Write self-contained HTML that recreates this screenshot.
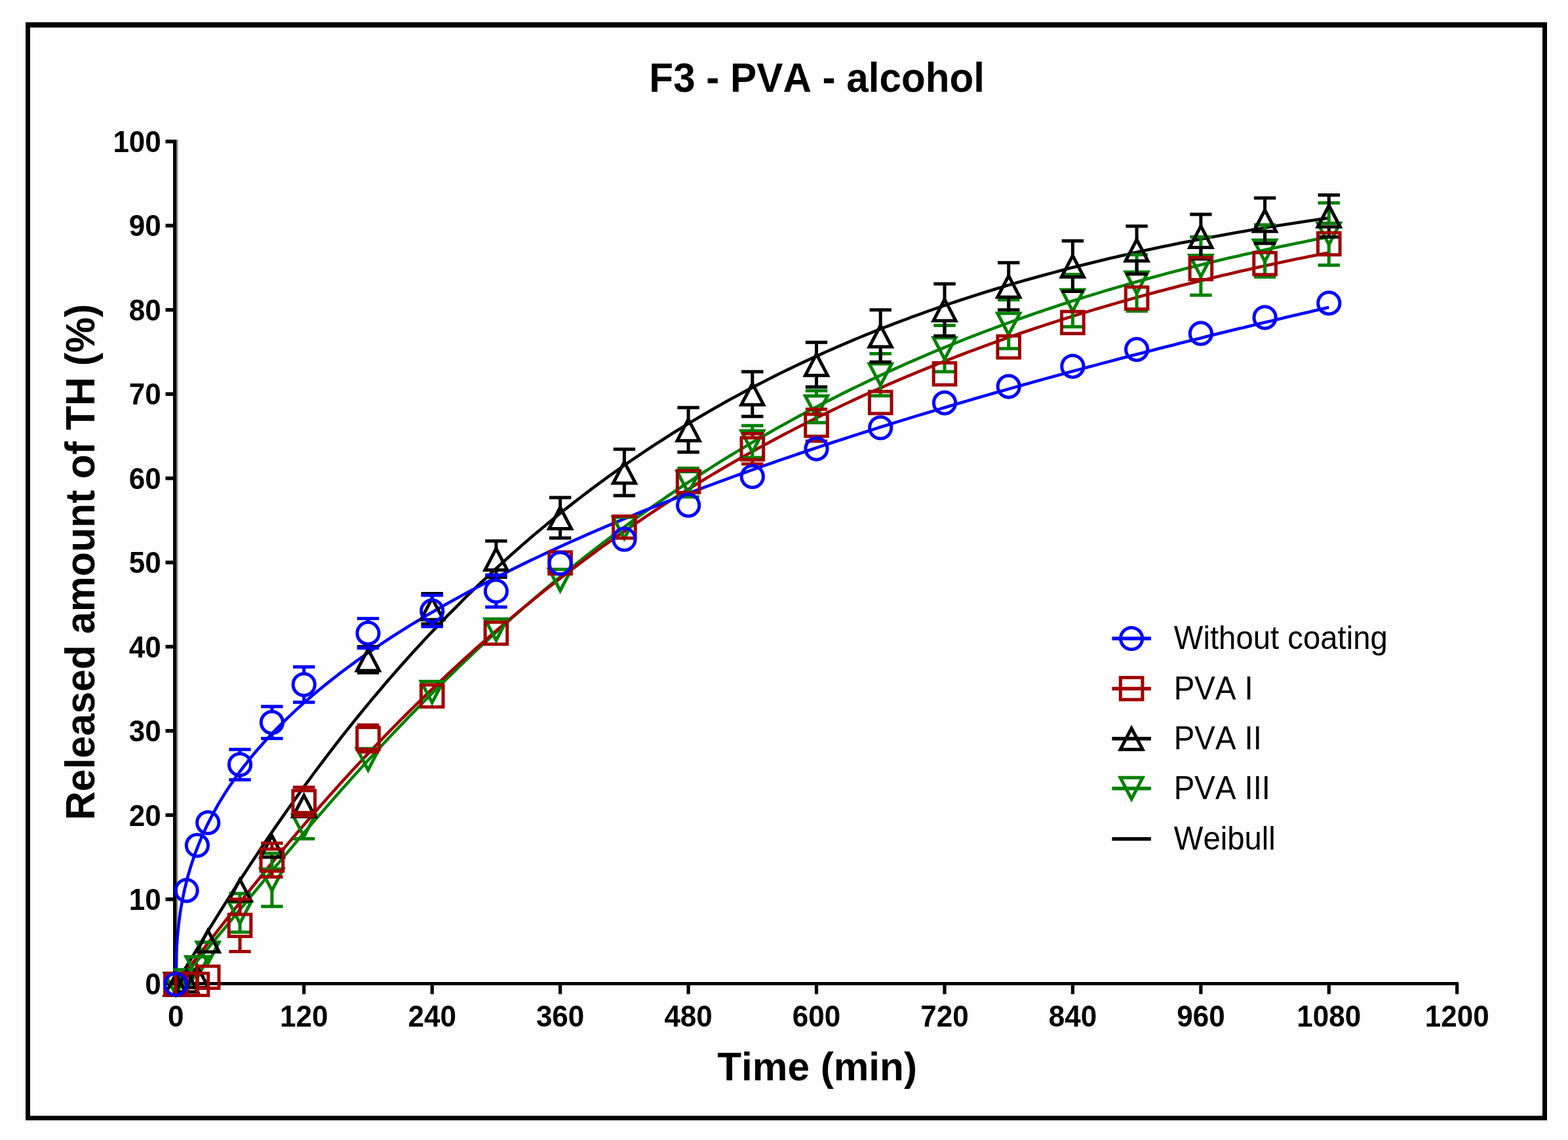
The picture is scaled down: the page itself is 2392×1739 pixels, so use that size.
<!DOCTYPE html>
<html lang="en">
<head>
<meta charset="utf-8">
<title>F3 - PVA - alcohol</title>
<style>html,body{margin:0;padding:0;background:#fefefe}svg{display:block}</style>
</head>
<body>
<svg width="2392" height="1739" viewBox="0 0 2392 1739" font-family="'Liberation Sans', Arial, Helvetica, sans-serif" style="font-kerning:none;font-variant-ligatures:none">
<rect width="2392" height="1739" fill="#fefefe"/>
<path d="M39,34H2360V1709H39Z M46,42V1702H2353V42Z" fill="#000" fill-rule="evenodd"/>
<g id="axes" fill="#000">
<rect x="264" y="213" width="5.6" height="1290"/>
<rect x="269.6" y="213" width="2" height="1285" fill="#9a9a9a"/>
<rect x="264" y="1498" width="1961" height="5"/>
<rect x="252.5" y="1497.5" width="12" height="5.6"/>
<rect x="252.5" y="1369.0" width="12" height="5.6"/>
<rect x="252.5" y="1240.6" width="12" height="5.6"/>
<rect x="252.5" y="1112.1" width="12" height="5.6"/>
<rect x="252.5" y="983.7" width="12" height="5.6"/>
<rect x="252.5" y="855.2" width="12" height="5.6"/>
<rect x="252.5" y="726.8" width="12" height="5.6"/>
<rect x="252.5" y="598.3" width="12" height="5.6"/>
<rect x="252.5" y="469.9" width="12" height="5.6"/>
<rect x="252.5" y="341.4" width="12" height="5.6"/>
<rect x="252.5" y="213.0" width="12" height="5.6"/>
<rect x="265.7" y="1500" width="5.2" height="16.5"/>
<rect x="461.1" y="1500" width="5.2" height="16.5"/>
<rect x="656.6" y="1500" width="5.2" height="16.5"/>
<rect x="852.0" y="1500" width="5.2" height="16.5"/>
<rect x="1047.5" y="1500" width="5.2" height="16.5"/>
<rect x="1242.9" y="1500" width="5.2" height="16.5"/>
<rect x="1438.4" y="1500" width="5.2" height="16.5"/>
<rect x="1633.8" y="1500" width="5.2" height="16.5"/>
<rect x="1829.3" y="1500" width="5.2" height="16.5"/>
<rect x="2024.7" y="1500" width="5.2" height="16.5"/>
<rect x="2220.1" y="1500" width="5.2" height="16.5"/>
</g>
<g id="fits">
<path id="fit-pva3" d="M268.3,1500.3 L269.1,1499.7 L269.9,1499.0 L270.7,1498.3 L271.6,1497.5 L272.4,1496.8 L273.2,1496.0 L274.0,1495.2 L274.8,1494.4 L275.6,1493.5 L276.4,1492.7 L277.3,1491.9 L278.1,1491.0 L278.9,1490.2 L279.7,1489.3 L280.5,1488.4 L281.3,1487.6 L282.1,1486.7 L283.0,1485.8 L283.8,1484.9 L284.6,1484.0 L285.4,1483.1 L286.2,1482.2 L287.0,1481.3 L287.8,1480.4 L288.7,1479.5 L289.5,1478.6 L290.3,1477.7 L291.1,1476.8 L291.9,1475.9 L292.7,1475.0 L293.5,1474.0 L294.4,1473.1 L295.2,1472.2 L296.0,1471.3 L296.8,1470.3 L297.6,1469.4 L298.4,1468.5 L299.2,1467.5 L300.1,1466.6 L300.9,1465.6 L301.7,1464.7 L302.5,1463.7 L303.3,1462.8 L304.1,1461.9 L304.9,1460.9 L305.8,1460.0 L306.6,1459.0 L307.4,1458.1 L308.2,1457.1 L309.0,1456.1 L309.8,1455.2 L310.6,1454.2 L311.5,1453.3 L312.3,1452.3 L313.1,1451.3 L313.9,1450.4 L314.7,1449.4 L315.5,1448.5 L316.3,1447.5 L317.2,1446.5 L325.3,1436.8 L333.4,1427.0 L341.6,1417.2 L349.7,1407.4 L357.9,1397.5 L366.0,1387.6 L374.2,1377.7 L382.3,1367.9 L390.5,1358.0 L398.6,1348.2 L406.7,1338.4 L414.9,1328.6 L423.0,1318.8 L431.2,1309.1 L439.3,1299.4 L447.5,1289.8 L455.6,1280.1 L463.7,1270.6 L471.9,1261.1 L480.0,1251.6 L488.2,1242.2 L496.3,1232.8 L504.5,1223.5 L512.6,1214.3 L520.7,1205.1 L528.9,1195.9 L537.0,1186.8 L545.2,1177.8 L553.3,1168.8 L561.5,1159.9 L569.6,1151.0 L577.8,1142.2 L585.9,1133.5 L594.0,1124.8 L602.2,1116.2 L610.3,1107.6 L618.5,1099.1 L626.6,1090.7 L634.8,1082.3 L642.9,1074.0 L651.0,1065.8 L659.2,1057.6 L667.3,1049.5 L675.5,1041.4 L683.6,1033.4 L691.8,1025.5 L699.9,1017.6 L708.0,1009.8 L716.2,1002.1 L724.3,994.4 L732.5,986.8 L740.6,979.2 L748.8,971.7 L756.9,964.3 L765.1,956.9 L773.2,949.6 L781.3,942.3 L789.5,935.2 L797.6,928.0 L805.8,921.0 L813.9,913.9 L822.1,907.0 L830.2,900.1 L838.3,893.3 L846.5,886.5 L854.6,879.8 L862.8,873.1 L870.9,866.6 L879.1,860.0 L887.2,853.5 L895.3,847.1 L903.5,840.8 L911.6,834.5 L919.8,828.2 L927.9,822.0 L936.1,815.9 L944.2,809.8 L952.4,803.8 L960.5,797.8 L968.6,791.9 L976.8,786.0 L984.9,780.2 L993.1,774.5 L1001.2,768.7 L1009.4,763.1 L1017.5,757.5 L1025.6,752.0 L1033.8,746.5 L1041.9,741.0 L1050.1,735.6 L1058.2,730.3 L1066.4,725.0 L1074.5,719.8 L1082.7,714.6 L1090.8,709.4 L1098.9,704.3 L1107.1,699.3 L1115.2,694.3 L1123.4,689.4 L1131.5,684.5 L1139.7,679.6 L1147.8,674.8 L1155.9,670.0 L1164.1,665.3 L1172.2,660.7 L1180.4,656.0 L1188.5,651.5 L1196.7,646.9 L1204.8,642.4 L1212.9,638.0 L1221.1,633.6 L1229.2,629.2 L1237.4,624.9 L1245.5,620.7 L1253.7,616.4 L1261.8,612.2 L1270.0,608.1 L1278.1,604.0 L1286.2,599.9 L1294.4,595.9 L1302.5,591.9 L1310.7,588.0 L1318.8,584.1 L1327.0,580.2 L1335.1,576.4 L1343.2,572.6 L1351.4,568.8 L1359.5,565.1 L1367.7,561.4 L1375.8,557.8 L1384.0,554.2 L1392.1,550.6 L1400.2,547.1 L1408.4,543.6 L1416.5,540.1 L1424.7,536.7 L1432.8,533.3 L1441.0,530.0 L1449.1,526.7 L1457.3,523.4 L1465.4,520.1 L1473.5,516.9 L1481.7,513.7 L1489.8,510.6 L1498.0,507.4 L1506.1,504.3 L1514.3,501.3 L1522.4,498.3 L1530.5,495.3 L1538.7,492.3 L1546.8,489.4 L1555.0,486.5 L1563.1,483.6 L1571.3,480.8 L1579.4,477.9 L1587.5,475.2 L1595.7,472.4 L1603.8,469.7 L1612.0,467.0 L1620.1,464.3 L1628.3,461.7 L1636.4,459.0 L1644.6,456.5 L1652.7,453.9 L1660.8,451.4 L1669.0,448.9 L1677.1,446.4 L1685.3,443.9 L1693.4,441.5 L1701.6,439.1 L1709.7,436.7 L1717.8,434.4 L1726.0,432.0 L1734.1,429.7 L1742.3,427.5 L1750.4,425.2 L1758.6,423.0 L1766.7,420.8 L1774.8,418.6 L1783.0,416.4 L1791.1,414.3 L1799.3,412.2 L1807.4,410.1 L1815.6,408.0 L1823.7,406.0 L1831.9,403.9 L1840.0,401.9 L1848.1,400.0 L1856.3,398.0 L1864.4,396.1 L1872.6,394.1 L1880.7,392.2 L1888.9,390.4 L1897.0,388.5 L1905.1,386.7 L1913.3,384.9 L1921.4,383.1 L1929.6,381.3 L1937.7,379.5 L1945.9,377.8 L1954.0,376.1 L1962.1,374.4 L1970.3,372.7 L1978.4,371.0 L1986.6,369.4 L1994.7,367.7 L2002.9,366.1 L2011.0,364.5 L2019.2,362.9 L2027.3,361.4" stroke="#008000" stroke-width="4.6" fill="none" stroke-linejoin="round"/>
<path id="fit-pva2" d="M268.3,1500.3 L269.1,1499.1 L269.9,1497.8 L270.7,1496.5 L271.6,1495.2 L272.4,1493.9 L273.2,1492.6 L274.0,1491.3 L274.8,1490.0 L275.6,1488.6 L276.4,1487.3 L277.3,1486.0 L278.1,1484.6 L278.9,1483.3 L279.7,1482.0 L280.5,1480.6 L281.3,1479.3 L282.1,1478.0 L283.0,1476.6 L283.8,1475.3 L284.6,1474.0 L285.4,1472.6 L286.2,1471.3 L287.0,1469.9 L287.8,1468.6 L288.7,1467.2 L289.5,1465.9 L290.3,1464.6 L291.1,1463.2 L291.9,1461.9 L292.7,1460.5 L293.5,1459.2 L294.4,1457.9 L295.2,1456.5 L296.0,1455.2 L296.8,1453.8 L297.6,1452.5 L298.4,1451.2 L299.2,1449.8 L300.1,1448.5 L300.9,1447.1 L301.7,1445.8 L302.5,1444.5 L303.3,1443.1 L304.1,1441.8 L304.9,1440.5 L305.8,1439.1 L306.6,1437.8 L307.4,1436.5 L308.2,1435.1 L309.0,1433.8 L309.8,1432.5 L310.6,1431.1 L311.5,1429.8 L312.3,1428.5 L313.1,1427.2 L313.9,1425.8 L314.7,1424.5 L315.5,1423.2 L316.3,1421.9 L317.2,1420.5 L325.3,1407.3 L333.4,1394.3 L341.6,1381.3 L349.7,1368.4 L357.9,1355.6 L366.0,1343.0 L374.2,1330.4 L382.3,1318.0 L390.5,1305.7 L398.6,1293.5 L406.7,1281.4 L414.9,1269.4 L423.0,1257.6 L431.2,1245.9 L439.3,1234.3 L447.5,1222.8 L455.6,1211.4 L463.7,1200.2 L471.9,1189.0 L480.0,1178.0 L488.2,1167.1 L496.3,1156.3 L504.5,1145.7 L512.6,1135.1 L520.7,1124.7 L528.9,1114.3 L537.0,1104.1 L545.2,1094.0 L553.3,1084.0 L561.5,1074.1 L569.6,1064.3 L577.8,1054.7 L585.9,1045.1 L594.0,1035.6 L602.2,1026.3 L610.3,1017.0 L618.5,1007.9 L626.6,998.8 L634.8,989.9 L642.9,981.0 L651.0,972.3 L659.2,963.6 L667.3,955.1 L675.5,946.6 L683.6,938.2 L691.8,930.0 L699.9,921.8 L708.0,913.7 L716.2,905.7 L724.3,897.8 L732.5,890.0 L740.6,882.3 L748.8,874.7 L756.9,867.1 L765.1,859.6 L773.2,852.3 L781.3,845.0 L789.5,837.8 L797.6,830.6 L805.8,823.6 L813.9,816.6 L822.1,809.7 L830.2,802.9 L838.3,796.2 L846.5,789.6 L854.6,783.0 L862.8,776.5 L870.9,770.1 L879.1,763.7 L887.2,757.5 L895.3,751.3 L903.5,745.1 L911.6,739.1 L919.8,733.1 L927.9,727.2 L936.1,721.3 L944.2,715.5 L952.4,709.8 L960.5,704.2 L968.6,698.6 L976.8,693.1 L984.9,687.6 L993.1,682.3 L1001.2,676.9 L1009.4,671.7 L1017.5,666.5 L1025.6,661.3 L1033.8,656.3 L1041.9,651.2 L1050.1,646.3 L1058.2,641.4 L1066.4,636.5 L1074.5,631.7 L1082.7,627.0 L1090.8,622.3 L1098.9,617.7 L1107.1,613.1 L1115.2,608.6 L1123.4,604.2 L1131.5,599.8 L1139.7,595.4 L1147.8,591.1 L1155.9,586.9 L1164.1,582.7 L1172.2,578.5 L1180.4,574.4 L1188.5,570.3 L1196.7,566.3 L1204.8,562.4 L1212.9,558.5 L1221.1,554.6 L1229.2,550.8 L1237.4,547.0 L1245.5,543.3 L1253.7,539.6 L1261.8,536.0 L1270.0,532.4 L1278.1,528.8 L1286.2,525.3 L1294.4,521.8 L1302.5,518.4 L1310.7,515.0 L1318.8,511.6 L1327.0,508.3 L1335.1,505.1 L1343.2,501.8 L1351.4,498.6 L1359.5,495.5 L1367.7,492.4 L1375.8,489.3 L1384.0,486.3 L1392.1,483.2 L1400.2,480.3 L1408.4,477.3 L1416.5,474.4 L1424.7,471.6 L1432.8,468.7 L1441.0,466.0 L1449.1,463.2 L1457.3,460.5 L1465.4,457.8 L1473.5,455.1 L1481.7,452.5 L1489.8,449.9 L1498.0,447.3 L1506.1,444.8 L1514.3,442.2 L1522.4,439.8 L1530.5,437.3 L1538.7,434.9 L1546.8,432.5 L1555.0,430.1 L1563.1,427.8 L1571.3,425.5 L1579.4,423.2 L1587.5,421.0 L1595.7,418.8 L1603.8,416.6 L1612.0,414.4 L1620.1,412.3 L1628.3,410.1 L1636.4,408.0 L1644.6,406.0 L1652.7,403.9 L1660.8,401.9 L1669.0,399.9 L1677.1,398.0 L1685.3,396.0 L1693.4,394.1 L1701.6,392.2 L1709.7,390.3 L1717.8,388.5 L1726.0,386.6 L1734.1,384.8 L1742.3,383.0 L1750.4,381.3 L1758.6,379.5 L1766.7,377.8 L1774.8,376.1 L1783.0,374.4 L1791.1,372.8 L1799.3,371.1 L1807.4,369.5 L1815.6,367.9 L1823.7,366.3 L1831.9,364.8 L1840.0,363.2 L1848.1,361.7 L1856.3,360.2 L1864.4,358.7 L1872.6,357.2 L1880.7,355.8 L1888.9,354.3 L1897.0,352.9 L1905.1,351.5 L1913.3,350.1 L1921.4,348.8 L1929.6,347.4 L1937.7,346.1 L1945.9,344.8 L1954.0,343.5 L1962.1,342.2 L1970.3,340.9 L1978.4,339.7 L1986.6,338.4 L1994.7,337.2 L2002.9,336.0 L2011.0,334.8 L2019.2,333.6 L2027.3,332.5" stroke="#000000" stroke-width="4.6" fill="none" stroke-linejoin="round"/>
<path id="fit-pva1" d="M268.3,1500.3 L269.1,1499.4 L269.9,1498.5 L270.7,1497.5 L271.6,1496.6 L272.4,1495.6 L273.2,1494.6 L274.0,1493.6 L274.8,1492.6 L275.6,1491.6 L276.4,1490.6 L277.3,1489.6 L278.1,1488.6 L278.9,1487.6 L279.7,1486.6 L280.5,1485.6 L281.3,1484.6 L282.1,1483.5 L283.0,1482.5 L283.8,1481.5 L284.6,1480.5 L285.4,1479.4 L286.2,1478.4 L287.0,1477.4 L287.8,1476.3 L288.7,1475.3 L289.5,1474.3 L290.3,1473.2 L291.1,1472.2 L291.9,1471.1 L292.7,1470.1 L293.5,1469.1 L294.4,1468.0 L295.2,1467.0 L296.0,1465.9 L296.8,1464.9 L297.6,1463.9 L298.4,1462.8 L299.2,1461.8 L300.1,1460.7 L300.9,1459.7 L301.7,1458.6 L302.5,1457.6 L303.3,1456.6 L304.1,1455.5 L304.9,1454.5 L305.8,1453.4 L306.6,1452.4 L307.4,1451.3 L308.2,1450.3 L309.0,1449.2 L309.8,1448.2 L310.6,1447.1 L311.5,1446.1 L312.3,1445.1 L313.1,1444.0 L313.9,1443.0 L314.7,1441.9 L315.5,1440.9 L316.3,1439.8 L317.2,1438.8 L325.3,1428.3 L333.4,1417.9 L341.6,1407.5 L349.7,1397.2 L357.9,1386.9 L366.0,1376.6 L374.2,1366.4 L382.3,1356.2 L390.5,1346.2 L398.6,1336.1 L406.7,1326.2 L414.9,1316.2 L423.0,1306.4 L431.2,1296.6 L439.3,1286.9 L447.5,1277.3 L455.6,1267.7 L463.7,1258.2 L471.9,1248.8 L480.0,1239.4 L488.2,1230.1 L496.3,1220.9 L504.5,1211.7 L512.6,1202.7 L520.7,1193.6 L528.9,1184.7 L537.0,1175.8 L545.2,1167.0 L553.3,1158.3 L561.5,1149.6 L569.6,1141.1 L577.8,1132.5 L585.9,1124.1 L594.0,1115.7 L602.2,1107.4 L610.3,1099.2 L618.5,1091.0 L626.6,1082.9 L634.8,1074.8 L642.9,1066.9 L651.0,1059.0 L659.2,1051.1 L667.3,1043.4 L675.5,1035.7 L683.6,1028.0 L691.8,1020.4 L699.9,1012.9 L708.0,1005.5 L716.2,998.1 L724.3,990.8 L732.5,983.6 L740.6,976.4 L748.8,969.3 L756.9,962.2 L765.1,955.2 L773.2,948.3 L781.3,941.4 L789.5,934.6 L797.6,927.8 L805.8,921.1 L813.9,914.5 L822.1,907.9 L830.2,901.4 L838.3,895.0 L846.5,888.6 L854.6,882.2 L862.8,876.0 L870.9,869.7 L879.1,863.6 L887.2,857.4 L895.3,851.4 L903.5,845.4 L911.6,839.4 L919.8,833.5 L927.9,827.7 L936.1,821.9 L944.2,816.2 L952.4,810.5 L960.5,804.9 L968.6,799.3 L976.8,793.8 L984.9,788.3 L993.1,782.8 L1001.2,777.5 L1009.4,772.1 L1017.5,766.9 L1025.6,761.6 L1033.8,756.5 L1041.9,751.3 L1050.1,746.2 L1058.2,741.2 L1066.4,736.2 L1074.5,731.3 L1082.7,726.4 L1090.8,721.5 L1098.9,716.7 L1107.1,712.0 L1115.2,707.2 L1123.4,702.6 L1131.5,697.9 L1139.7,693.3 L1147.8,688.8 L1155.9,684.3 L1164.1,679.8 L1172.2,675.4 L1180.4,671.1 L1188.5,666.7 L1196.7,662.4 L1204.8,658.2 L1212.9,654.0 L1221.1,649.8 L1229.2,645.7 L1237.4,641.6 L1245.5,637.5 L1253.7,633.5 L1261.8,629.5 L1270.0,625.6 L1278.1,621.7 L1286.2,617.8 L1294.4,614.0 L1302.5,610.2 L1310.7,606.4 L1318.8,602.7 L1327.0,599.0 L1335.1,595.4 L1343.2,591.8 L1351.4,588.2 L1359.5,584.6 L1367.7,581.1 L1375.8,577.7 L1384.0,574.2 L1392.1,570.8 L1400.2,567.4 L1408.4,564.1 L1416.5,560.8 L1424.7,557.5 L1432.8,554.2 L1441.0,551.0 L1449.1,547.8 L1457.3,544.7 L1465.4,541.5 L1473.5,538.4 L1481.7,535.4 L1489.8,532.3 L1498.0,529.3 L1506.1,526.3 L1514.3,523.4 L1522.4,520.5 L1530.5,517.6 L1538.7,514.7 L1546.8,511.9 L1555.0,509.0 L1563.1,506.3 L1571.3,503.5 L1579.4,500.8 L1587.5,498.1 L1595.7,495.4 L1603.8,492.7 L1612.0,490.1 L1620.1,487.5 L1628.3,484.9 L1636.4,482.4 L1644.6,479.9 L1652.7,477.4 L1660.8,474.9 L1669.0,472.4 L1677.1,470.0 L1685.3,467.6 L1693.4,465.2 L1701.6,462.9 L1709.7,460.5 L1717.8,458.2 L1726.0,455.9 L1734.1,453.7 L1742.3,451.4 L1750.4,449.2 L1758.6,447.0 L1766.7,444.8 L1774.8,442.7 L1783.0,440.5 L1791.1,438.4 L1799.3,436.3 L1807.4,434.3 L1815.6,432.2 L1823.7,430.2 L1831.9,428.2 L1840.0,426.2 L1848.1,424.2 L1856.3,422.2 L1864.4,420.3 L1872.6,418.4 L1880.7,416.5 L1888.9,414.6 L1897.0,412.7 L1905.1,410.9 L1913.3,409.1 L1921.4,407.3 L1929.6,405.5 L1937.7,403.7 L1945.9,402.0 L1954.0,400.2 L1962.1,398.5 L1970.3,396.8 L1978.4,395.1 L1986.6,393.5 L1994.7,391.8 L2002.9,390.2 L2011.0,388.6 L2019.2,386.9 L2027.3,385.4" stroke="#a00000" stroke-width="4.6" fill="none" stroke-linejoin="round"/>
<path id="fit-nocoat" d="M268.3,1500.3 L269.1,1454.7 L269.9,1439.7 L270.7,1428.7 L271.6,1419.7 L272.4,1412.0 L273.2,1405.2 L274.0,1398.9 L274.8,1393.2 L275.6,1388.0 L276.4,1383.0 L277.3,1378.3 L278.1,1373.9 L278.9,1369.7 L279.7,1365.7 L280.5,1361.8 L281.3,1358.1 L282.1,1354.6 L283.0,1351.1 L283.8,1347.8 L284.6,1344.5 L285.4,1341.4 L286.2,1338.4 L287.0,1335.4 L287.8,1332.5 L288.7,1329.7 L289.5,1326.9 L290.3,1324.2 L291.1,1321.6 L291.9,1319.0 L292.7,1316.5 L293.5,1314.0 L294.4,1311.6 L295.2,1309.2 L296.0,1306.8 L296.8,1304.5 L297.6,1302.3 L298.4,1300.0 L299.2,1297.9 L300.1,1295.7 L300.9,1293.6 L301.7,1291.5 L302.5,1289.4 L303.3,1287.4 L304.1,1285.4 L304.9,1283.4 L305.8,1281.4 L306.6,1279.5 L307.4,1277.6 L308.2,1275.7 L309.0,1273.9 L309.8,1272.0 L310.6,1270.2 L311.5,1268.4 L312.3,1266.7 L313.1,1264.9 L313.9,1263.2 L314.7,1261.5 L315.5,1259.8 L316.3,1258.1 L317.2,1256.4 L325.3,1240.6 L333.4,1226.1 L341.6,1212.6 L349.7,1200.1 L357.9,1188.2 L366.0,1177.0 L374.2,1166.3 L382.3,1156.1 L390.5,1146.3 L398.6,1136.9 L406.7,1127.9 L414.9,1119.2 L423.0,1110.7 L431.2,1102.5 L439.3,1094.6 L447.5,1086.9 L455.6,1079.4 L463.7,1072.1 L471.9,1065.0 L480.0,1058.0 L488.2,1051.2 L496.3,1044.6 L504.5,1038.1 L512.6,1031.7 L520.7,1025.4 L528.9,1019.3 L537.0,1013.3 L545.2,1007.4 L553.3,1001.6 L561.5,995.9 L569.6,990.3 L577.8,984.8 L585.9,979.4 L594.0,974.0 L602.2,968.8 L610.3,963.6 L618.5,958.5 L626.6,953.4 L634.8,948.5 L642.9,943.6 L651.0,938.7 L659.2,934.0 L667.3,929.2 L675.5,924.6 L683.6,920.0 L691.8,915.4 L699.9,911.0 L708.0,906.5 L716.2,902.1 L724.3,897.8 L732.5,893.5 L740.6,889.2 L748.8,885.0 L756.9,880.9 L765.1,876.7 L773.2,872.7 L781.3,868.6 L789.5,864.6 L797.6,860.6 L805.8,856.7 L813.9,852.8 L822.1,849.0 L830.2,845.1 L838.3,841.4 L846.5,837.6 L854.6,833.9 L862.8,830.2 L870.9,826.5 L879.1,822.9 L887.2,819.3 L895.3,815.7 L903.5,812.2 L911.6,808.7 L919.8,805.2 L927.9,801.7 L936.1,798.3 L944.2,794.9 L952.4,791.5 L960.5,788.1 L968.6,784.8 L976.8,781.5 L984.9,778.2 L993.1,774.9 L1001.2,771.7 L1009.4,768.4 L1017.5,765.2 L1025.6,762.1 L1033.8,758.9 L1041.9,755.8 L1050.1,752.7 L1058.2,749.6 L1066.4,746.5 L1074.5,743.4 L1082.7,740.4 L1090.8,737.4 L1098.9,734.3 L1107.1,731.4 L1115.2,728.4 L1123.4,725.4 L1131.5,722.5 L1139.7,719.6 L1147.8,716.7 L1155.9,713.8 L1164.1,710.9 L1172.2,708.1 L1180.4,705.3 L1188.5,702.4 L1196.7,699.6 L1204.8,696.8 L1212.9,694.1 L1221.1,691.3 L1229.2,688.6 L1237.4,685.8 L1245.5,683.1 L1253.7,680.4 L1261.8,677.7 L1270.0,675.0 L1278.1,672.4 L1286.2,669.7 L1294.4,667.1 L1302.5,664.5 L1310.7,661.9 L1318.8,659.3 L1327.0,656.7 L1335.1,654.1 L1343.2,651.5 L1351.4,649.0 L1359.5,646.5 L1367.7,643.9 L1375.8,641.4 L1384.0,638.9 L1392.1,636.4 L1400.2,633.9 L1408.4,631.5 L1416.5,629.0 L1424.7,626.6 L1432.8,624.1 L1441.0,621.7 L1449.1,619.3 L1457.3,616.9 L1465.4,614.5 L1473.5,612.1 L1481.7,609.7 L1489.8,607.3 L1498.0,605.0 L1506.1,602.6 L1514.3,600.3 L1522.4,598.0 L1530.5,595.7 L1538.7,593.4 L1546.8,591.1 L1555.0,588.8 L1563.1,586.5 L1571.3,584.2 L1579.4,581.9 L1587.5,579.7 L1595.7,577.4 L1603.8,575.2 L1612.0,573.0 L1620.1,570.7 L1628.3,568.5 L1636.4,566.3 L1644.6,564.1 L1652.7,561.9 L1660.8,559.8 L1669.0,557.6 L1677.1,555.4 L1685.3,553.3 L1693.4,551.1 L1701.6,549.0 L1709.7,546.8 L1717.8,544.7 L1726.0,542.6 L1734.1,540.5 L1742.3,538.4 L1750.4,536.3 L1758.6,534.2 L1766.7,532.1 L1774.8,530.0 L1783.0,527.9 L1791.1,525.9 L1799.3,523.8 L1807.4,521.8 L1815.6,519.7 L1823.7,517.7 L1831.9,515.7 L1840.0,513.6 L1848.1,511.6 L1856.3,509.6 L1864.4,507.6 L1872.6,505.6 L1880.7,503.6 L1888.9,501.6 L1897.0,499.7 L1905.1,497.7 L1913.3,495.7 L1921.4,493.8 L1929.6,491.8 L1937.7,489.9 L1945.9,487.9 L1954.0,486.0 L1962.1,484.0 L1970.3,482.1 L1978.4,480.2 L1986.6,478.3 L1994.7,476.4 L2002.9,474.5 L2011.0,472.6 L2019.2,470.7 L2027.3,468.8" stroke="#0000ff" stroke-width="4.6" fill="none" stroke-linejoin="round"/>
</g>
<g id="pva3">
<path d="M268.3,1517.6L285.3,1485.1L251.3,1485.1Z" stroke="#008000" stroke-width="5.0" fill="none" stroke-linejoin="miter"/>
<path d="M284.6,1511.8L301.6,1479.3L267.6,1479.3Z" stroke="#008000" stroke-width="5.0" fill="none" stroke-linejoin="miter"/>
<path d="M300.9,1491.9L317.9,1459.4L283.9,1459.4Z" stroke="#008000" stroke-width="5.0" fill="none" stroke-linejoin="miter"/>
<path d="M317.2,1469.7L334.2,1437.2L300.2,1437.2Z" stroke="#008000" stroke-width="5.0" fill="none" stroke-linejoin="miter"/>
<path d="M366.0,1362.9V1374.4M349.3,1362.9h33.4M366.0,1407.9V1421.9M349.3,1421.9h33.4" stroke="#008000" stroke-width="5.0" fill="none"/>
<path d="M366.0,1408.4L383.0,1375.9L349.0,1375.9Z" stroke="#008000" stroke-width="5.0" fill="none" stroke-linejoin="miter"/>
<path d="M414.9,1301.8V1324.3M398.2,1301.8h33.4M414.9,1357.8V1382.8M398.2,1382.8h33.4" stroke="#008000" stroke-width="5.0" fill="none"/>
<path d="M414.9,1358.3L431.9,1325.8L397.9,1325.8Z" stroke="#008000" stroke-width="5.0" fill="none" stroke-linejoin="miter"/>
<path d="M463.7,1240.8V1242.1M447.0,1240.8h33.4M463.7,1275.6V1279.4M447.0,1279.4h33.4" stroke="#008000" stroke-width="5.0" fill="none"/>
<path d="M463.7,1276.1L480.7,1243.6L446.7,1243.6Z" stroke="#008000" stroke-width="5.0" fill="none" stroke-linejoin="miter"/>
<path d="M561.5,1174.6L578.5,1142.1L544.5,1142.1Z" stroke="#008000" stroke-width="5.0" fill="none" stroke-linejoin="miter"/>
<path d="M659.2,1071.9L676.2,1039.4L642.2,1039.4Z" stroke="#008000" stroke-width="5.0" fill="none" stroke-linejoin="miter"/>
<path d="M756.9,976.8L773.9,944.3L739.9,944.3Z" stroke="#008000" stroke-width="5.0" fill="none" stroke-linejoin="miter"/>
<path d="M854.6,901.0L871.6,868.5L837.6,868.5Z" stroke="#008000" stroke-width="5.0" fill="none" stroke-linejoin="miter"/>
<path d="M952.4,821.4L969.4,788.9L935.4,788.9Z" stroke="#008000" stroke-width="5.0" fill="none" stroke-linejoin="miter"/>
<path d="M1050.1,714.2V718.0M1033.4,714.2h33.4M1050.1,751.5V757.9M1033.4,757.9h33.4" stroke="#008000" stroke-width="5.0" fill="none"/>
<path d="M1050.1,752.0L1067.1,719.5L1033.1,719.5Z" stroke="#008000" stroke-width="5.0" fill="none" stroke-linejoin="miter"/>
<path d="M1147.8,649.3V655.7M1131.1,649.3h33.4M1147.8,689.2V698.1M1131.1,698.1h33.4" stroke="#008000" stroke-width="5.0" fill="none"/>
<path d="M1147.8,689.7L1164.8,657.2L1130.8,657.2Z" stroke="#008000" stroke-width="5.0" fill="none" stroke-linejoin="miter"/>
<path d="M1245.5,596.0V602.4M1228.8,596.0h33.4M1245.5,635.9V644.8M1228.8,644.8h33.4" stroke="#008000" stroke-width="5.0" fill="none"/>
<path d="M1245.5,636.4L1262.5,603.9L1228.5,603.9Z" stroke="#008000" stroke-width="5.0" fill="none" stroke-linejoin="miter"/>
<path d="M1343.2,539.5V553.6M1326.5,539.5h33.4M1343.2,587.1V603.7M1326.5,603.7h33.4" stroke="#008000" stroke-width="5.0" fill="none"/>
<path d="M1343.2,587.6L1360.2,555.1L1326.2,555.1Z" stroke="#008000" stroke-width="5.0" fill="none" stroke-linejoin="miter"/>
<path d="M1441.0,496.5V513.8M1424.3,496.5h33.4M1441.0,547.3V567.1M1424.3,567.1h33.4" stroke="#008000" stroke-width="5.0" fill="none"/>
<path d="M1441.0,547.8L1458.0,515.3L1424.0,515.3Z" stroke="#008000" stroke-width="5.0" fill="none" stroke-linejoin="miter"/>
<path d="M1538.7,457.3V476.5M1522.0,457.3h33.4M1538.7,510.0V531.8M1522.0,531.8h33.4" stroke="#008000" stroke-width="5.0" fill="none"/>
<path d="M1538.7,510.5L1555.7,478.0L1521.7,478.0Z" stroke="#008000" stroke-width="5.0" fill="none" stroke-linejoin="miter"/>
<path d="M1636.4,418.8V440.6M1619.7,418.8h33.4M1636.4,474.1V498.4M1619.7,498.4h33.4" stroke="#008000" stroke-width="5.0" fill="none"/>
<path d="M1636.4,474.6L1653.4,442.1L1619.4,442.1Z" stroke="#008000" stroke-width="5.0" fill="none" stroke-linejoin="miter"/>
<path d="M1734.1,388.6V413.6M1717.4,388.6h33.4M1734.1,447.1V474.6M1717.4,474.6h33.4" stroke="#008000" stroke-width="5.0" fill="none"/>
<path d="M1734.1,447.6L1751.1,415.1L1717.1,415.1Z" stroke="#008000" stroke-width="5.0" fill="none" stroke-linejoin="miter"/>
<path d="M1831.9,361.6V387.9M1815.2,361.6h33.4M1831.9,421.4V450.2M1815.2,450.2h33.4" stroke="#008000" stroke-width="5.0" fill="none"/>
<path d="M1831.9,421.9L1848.9,389.4L1814.9,389.4Z" stroke="#008000" stroke-width="5.0" fill="none" stroke-linejoin="miter"/>
<path d="M1929.6,343.0V364.8M1912.9,343.0h33.4M1929.6,398.3V422.6M1912.9,422.6h33.4" stroke="#008000" stroke-width="5.0" fill="none"/>
<path d="M1929.6,398.8L1946.6,366.3L1912.6,366.3Z" stroke="#008000" stroke-width="5.0" fill="none" stroke-linejoin="miter"/>
<path d="M2027.3,309.6V339.1M2010.6,309.6h33.4M2027.3,372.6V404.6M2010.6,404.6h33.4" stroke="#008000" stroke-width="5.0" fill="none"/>
<path d="M2027.3,373.1L2044.3,340.6L2010.3,340.6Z" stroke="#008000" stroke-width="5.0" fill="none" stroke-linejoin="miter"/>
</g>
<g id="pva2">
<path d="M268.3,1485.6L285.3,1518.1L251.3,1518.1Z" stroke="#000000" stroke-width="5.0" fill="none" stroke-linejoin="miter"/>
<path d="M284.6,1480.4L301.6,1512.9L267.6,1512.9Z" stroke="#000000" stroke-width="5.0" fill="none" stroke-linejoin="miter"/>
<path d="M300.9,1474.0L317.9,1506.5L283.9,1506.5Z" stroke="#000000" stroke-width="5.0" fill="none" stroke-linejoin="miter"/>
<path d="M317.2,1419.4L334.2,1451.9L300.2,1451.9Z" stroke="#000000" stroke-width="5.0" fill="none" stroke-linejoin="miter"/>
<path d="M366.0,1341.7L383.0,1374.2L349.0,1374.2Z" stroke="#000000" stroke-width="5.0" fill="none" stroke-linejoin="miter"/>
<path d="M414.9,1274.9L431.9,1307.4L397.9,1307.4Z" stroke="#000000" stroke-width="5.0" fill="none" stroke-linejoin="miter"/>
<path d="M463.7,1213.3L480.7,1245.8L446.7,1245.8Z" stroke="#000000" stroke-width="5.0" fill="none" stroke-linejoin="miter"/>
<path d="M561.5,986.5V990.9M544.8,986.5h33.4M561.5,1024.4V1026.3M544.8,1026.3h33.4" stroke="#000000" stroke-width="5.0" fill="none"/>
<path d="M561.5,990.4L578.5,1022.9L544.5,1022.9Z" stroke="#000000" stroke-width="5.0" fill="none" stroke-linejoin="miter"/>
<path d="M659.2,905.6V913.2M642.5,905.6h33.4M659.2,946.7V951.8M642.5,951.8h33.4" stroke="#000000" stroke-width="5.0" fill="none"/>
<path d="M659.2,912.7L676.2,945.2L642.2,945.2Z" stroke="#000000" stroke-width="5.0" fill="none" stroke-linejoin="miter"/>
<path d="M756.9,825.3V837.4M740.2,825.3h33.4M756.9,870.9V880.5M740.2,880.5h33.4" stroke="#000000" stroke-width="5.0" fill="none"/>
<path d="M756.9,836.9L773.9,869.4L739.9,869.4Z" stroke="#000000" stroke-width="5.0" fill="none" stroke-linejoin="miter"/>
<path d="M854.6,759.1V774.5M837.9,759.1h33.4M854.6,808.0V820.8M837.9,820.8h33.4" stroke="#000000" stroke-width="5.0" fill="none"/>
<path d="M854.6,774.0L871.6,806.5L837.6,806.5Z" stroke="#000000" stroke-width="5.0" fill="none" stroke-linejoin="miter"/>
<path d="M952.4,685.3V705.1M935.7,685.3h33.4M952.4,738.6V755.9M935.7,755.9h33.4" stroke="#000000" stroke-width="5.0" fill="none"/>
<path d="M952.4,704.6L969.4,737.1L935.4,737.1Z" stroke="#000000" stroke-width="5.0" fill="none" stroke-linejoin="miter"/>
<path d="M1050.1,621.7V640.2M1033.4,621.7h33.4M1050.1,673.7V689.8M1033.4,689.8h33.4" stroke="#000000" stroke-width="5.0" fill="none"/>
<path d="M1050.1,639.7L1067.1,672.2L1033.1,672.2Z" stroke="#000000" stroke-width="5.0" fill="none" stroke-linejoin="miter"/>
<path d="M1147.8,567.1V585.6M1131.1,567.1h33.4M1147.8,619.1V635.2M1131.1,635.2h33.4" stroke="#000000" stroke-width="5.0" fill="none"/>
<path d="M1147.8,585.1L1164.8,617.6L1130.8,617.6Z" stroke="#000000" stroke-width="5.0" fill="none" stroke-linejoin="miter"/>
<path d="M1245.5,522.2V540.7M1228.8,522.2h33.4M1245.5,574.2V590.2M1228.8,590.2h33.4" stroke="#000000" stroke-width="5.0" fill="none"/>
<path d="M1245.5,540.2L1262.5,572.7L1228.5,572.7Z" stroke="#000000" stroke-width="5.0" fill="none" stroke-linejoin="miter"/>
<path d="M1343.2,472.7V497.0M1326.5,472.7h33.4M1343.2,530.5V552.3M1326.5,552.3h33.4" stroke="#000000" stroke-width="5.0" fill="none"/>
<path d="M1343.2,496.5L1360.2,529.0L1326.2,529.0Z" stroke="#000000" stroke-width="5.0" fill="none" stroke-linejoin="miter"/>
<path d="M1441.0,432.9V457.2M1424.3,432.9h33.4M1441.0,490.7V512.5M1424.3,512.5h33.4" stroke="#000000" stroke-width="5.0" fill="none"/>
<path d="M1441.0,456.7L1458.0,489.2L1424.0,489.2Z" stroke="#000000" stroke-width="5.0" fill="none" stroke-linejoin="miter"/>
<path d="M1538.7,400.8V421.2M1522.0,400.8h33.4M1538.7,454.7V472.7M1522.0,472.7h33.4" stroke="#000000" stroke-width="5.0" fill="none"/>
<path d="M1538.7,420.7L1555.7,453.2L1521.7,453.2Z" stroke="#000000" stroke-width="5.0" fill="none" stroke-linejoin="miter"/>
<path d="M1636.4,367.4V390.4M1619.7,367.4h33.4M1636.4,423.9V444.4M1619.7,444.4h33.4" stroke="#000000" stroke-width="5.0" fill="none"/>
<path d="M1636.4,389.9L1653.4,422.4L1619.4,422.4Z" stroke="#000000" stroke-width="5.0" fill="none" stroke-linejoin="miter"/>
<path d="M1734.1,344.9V366.0M1717.4,344.9h33.4M1734.1,399.5V418.1M1717.4,418.1h33.4" stroke="#000000" stroke-width="5.0" fill="none"/>
<path d="M1734.1,365.5L1751.1,398.0L1717.1,398.0Z" stroke="#000000" stroke-width="5.0" fill="none" stroke-linejoin="miter"/>
<path d="M1831.9,326.9V345.4M1815.2,326.9h33.4M1831.9,378.9V395.0M1815.2,395.0h33.4" stroke="#000000" stroke-width="5.0" fill="none"/>
<path d="M1831.9,344.9L1848.9,377.4L1814.9,377.4Z" stroke="#000000" stroke-width="5.0" fill="none" stroke-linejoin="miter"/>
<path d="M1929.6,301.9V321.0M1912.9,301.9h33.4M1929.6,354.5V371.2M1912.9,371.2h33.4" stroke="#000000" stroke-width="5.0" fill="none"/>
<path d="M1929.6,320.5L1946.6,353.0L1912.6,353.0Z" stroke="#000000" stroke-width="5.0" fill="none" stroke-linejoin="miter"/>
<path d="M2027.3,297.4V314.0M2010.6,297.4h33.4M2027.3,347.5V361.6M2010.6,361.6h33.4" stroke="#000000" stroke-width="5.0" fill="none"/>
<path d="M2027.3,313.5L2044.3,346.0L2010.3,346.0Z" stroke="#000000" stroke-width="5.0" fill="none" stroke-linejoin="miter"/>
</g>
<g id="pva1">
<rect x="251.5" y="1484.8" width="33.6" height="33.6" stroke="#a00000" stroke-width="5.0" fill="none"/>
<rect x="267.8" y="1484.8" width="33.6" height="33.6" stroke="#a00000" stroke-width="5.0" fill="none"/>
<rect x="284.1" y="1484.8" width="33.6" height="33.6" stroke="#a00000" stroke-width="5.0" fill="none"/>
<rect x="300.4" y="1473.9" width="33.6" height="33.6" stroke="#a00000" stroke-width="5.0" fill="none"/>
<path d="M366.0,1371.8V1394.2M349.3,1371.8h33.4M366.0,1429.2V1451.5M349.3,1451.5h33.4" stroke="#a00000" stroke-width="5.0" fill="none"/>
<rect x="349.2" y="1394.9" width="33.6" height="33.6" stroke="#a00000" stroke-width="5.0" fill="none"/>
<path d="M414.9,1286.3V1294.5M398.2,1286.3h33.4M414.9,1329.5V1337.7M398.2,1337.7h33.4" stroke="#a00000" stroke-width="5.0" fill="none"/>
<rect x="398.1" y="1295.2" width="33.6" height="33.6" stroke="#a00000" stroke-width="5.0" fill="none"/>
<path d="M463.7,1201.0V1205.3M447.0,1201.0h33.4M463.7,1240.3V1244.7M447.0,1244.7h33.4" stroke="#a00000" stroke-width="5.0" fill="none"/>
<rect x="446.9" y="1206.0" width="33.6" height="33.6" stroke="#a00000" stroke-width="5.0" fill="none"/>
<path d="M561.5,1106.0V1109.0M544.8,1106.0h33.4M561.5,1144.0V1147.1M544.8,1147.1h33.4" stroke="#a00000" stroke-width="5.0" fill="none"/>
<rect x="544.7" y="1109.7" width="33.6" height="33.6" stroke="#a00000" stroke-width="5.0" fill="none"/>
<rect x="642.4" y="1044.8" width="33.6" height="33.6" stroke="#a00000" stroke-width="5.0" fill="none"/>
<rect x="740.1" y="949.1" width="33.6" height="33.6" stroke="#a00000" stroke-width="5.0" fill="none"/>
<rect x="837.8" y="841.9" width="33.6" height="33.6" stroke="#a00000" stroke-width="5.0" fill="none"/>
<rect x="935.6" y="787.3" width="33.6" height="33.6" stroke="#a00000" stroke-width="5.0" fill="none"/>
<rect x="1033.3" y="717.9" width="33.6" height="33.6" stroke="#a00000" stroke-width="5.0" fill="none"/>
<path d="M1147.8,661.5V667.1M1131.1,661.5h33.4M1147.8,702.1V707.8M1131.1,707.8h33.4" stroke="#a00000" stroke-width="5.0" fill="none"/>
<rect x="1131.0" y="667.8" width="33.6" height="33.6" stroke="#a00000" stroke-width="5.0" fill="none"/>
<path d="M1245.5,624.3V631.2M1228.8,624.3h33.4M1245.5,666.2V673.1M1228.8,673.1h33.4" stroke="#a00000" stroke-width="5.0" fill="none"/>
<rect x="1228.7" y="631.9" width="33.6" height="33.6" stroke="#a00000" stroke-width="5.0" fill="none"/>
<rect x="1326.4" y="597.2" width="33.6" height="33.6" stroke="#a00000" stroke-width="5.0" fill="none"/>
<rect x="1424.2" y="553.5" width="33.6" height="33.6" stroke="#a00000" stroke-width="5.0" fill="none"/>
<rect x="1521.9" y="512.4" width="33.6" height="33.6" stroke="#a00000" stroke-width="5.0" fill="none"/>
<rect x="1619.6" y="475.2" width="33.6" height="33.6" stroke="#a00000" stroke-width="5.0" fill="none"/>
<rect x="1717.3" y="437.9" width="33.6" height="33.6" stroke="#a00000" stroke-width="5.0" fill="none"/>
<rect x="1815.1" y="393.0" width="33.6" height="33.6" stroke="#a00000" stroke-width="5.0" fill="none"/>
<rect x="1912.8" y="385.3" width="33.6" height="33.6" stroke="#a00000" stroke-width="5.0" fill="none"/>
<rect x="2010.5" y="355.1" width="33.6" height="33.6" stroke="#a00000" stroke-width="5.0" fill="none"/>
</g>
<g id="nocoat">
<circle cx="268.3" cy="1501.6" r="16.6" stroke="#0000ff" stroke-width="5.0" fill="none"/>
<circle cx="284.6" cy="1358.4" r="16.6" stroke="#0000ff" stroke-width="5.0" fill="none"/>
<circle cx="300.9" cy="1289.6" r="16.6" stroke="#0000ff" stroke-width="5.0" fill="none"/>
<circle cx="317.2" cy="1255.0" r="16.6" stroke="#0000ff" stroke-width="5.0" fill="none"/>
<path d="M366.0,1143.2V1148.8M349.3,1143.2h33.4M366.0,1183.8V1189.5M349.3,1189.5h33.4" stroke="#0000ff" stroke-width="5.0" fill="none"/>
<circle cx="366.0" cy="1166.3" r="16.6" stroke="#0000ff" stroke-width="5.0" fill="none"/>
<path d="M414.9,1077.7V1084.6M398.2,1077.7h33.4M414.9,1119.6V1126.5M398.2,1126.5h33.4" stroke="#0000ff" stroke-width="5.0" fill="none"/>
<circle cx="414.9" cy="1102.1" r="16.6" stroke="#0000ff" stroke-width="5.0" fill="none"/>
<path d="M463.7,1017.3V1026.8M447.0,1017.3h33.4M463.7,1061.8V1071.3M447.0,1071.3h33.4" stroke="#0000ff" stroke-width="5.0" fill="none"/>
<circle cx="463.7" cy="1044.3" r="16.6" stroke="#0000ff" stroke-width="5.0" fill="none"/>
<path d="M561.5,943.5V948.4M544.8,943.5h33.4M561.5,983.4V988.4M544.8,988.4h33.4" stroke="#0000ff" stroke-width="5.0" fill="none"/>
<circle cx="561.5" cy="965.9" r="16.6" stroke="#0000ff" stroke-width="5.0" fill="none"/>
<path d="M659.2,908.1V914.4M642.5,908.1h33.4M659.2,949.4V955.7M642.5,955.7h33.4" stroke="#0000ff" stroke-width="5.0" fill="none"/>
<circle cx="659.2" cy="931.9" r="16.6" stroke="#0000ff" stroke-width="5.0" fill="none"/>
<path d="M756.9,877.3V884.2M740.2,877.3h33.4M756.9,919.2V926.1M740.2,926.1h33.4" stroke="#0000ff" stroke-width="5.0" fill="none"/>
<circle cx="756.9" cy="901.7" r="16.6" stroke="#0000ff" stroke-width="5.0" fill="none"/>
<circle cx="854.6" cy="859.3" r="16.6" stroke="#0000ff" stroke-width="5.0" fill="none"/>
<circle cx="952.4" cy="822.7" r="16.6" stroke="#0000ff" stroke-width="5.0" fill="none"/>
<circle cx="1050.1" cy="770.7" r="16.6" stroke="#0000ff" stroke-width="5.0" fill="none"/>
<circle cx="1147.8" cy="727.0" r="16.6" stroke="#0000ff" stroke-width="5.0" fill="none"/>
<circle cx="1245.5" cy="684.6" r="16.6" stroke="#0000ff" stroke-width="5.0" fill="none"/>
<circle cx="1343.2" cy="652.5" r="16.6" stroke="#0000ff" stroke-width="5.0" fill="none"/>
<circle cx="1441.0" cy="614.6" r="16.6" stroke="#0000ff" stroke-width="5.0" fill="none"/>
<circle cx="1538.7" cy="589.6" r="16.6" stroke="#0000ff" stroke-width="5.0" fill="none"/>
<circle cx="1636.4" cy="558.8" r="16.6" stroke="#0000ff" stroke-width="5.0" fill="none"/>
<circle cx="1734.1" cy="533.1" r="16.6" stroke="#0000ff" stroke-width="5.0" fill="none"/>
<circle cx="1831.9" cy="508.7" r="16.6" stroke="#0000ff" stroke-width="5.0" fill="none"/>
<circle cx="1929.6" cy="484.3" r="16.6" stroke="#0000ff" stroke-width="5.0" fill="none"/>
<circle cx="2027.3" cy="462.4" r="16.6" stroke="#0000ff" stroke-width="5.0" fill="none"/>
</g>
<g font-weight="bold" font-size="44" fill="#000">
<text transform="translate(245.8,1516.5) scale(1,1.06)" text-anchor="end">0</text>
<text transform="translate(245.8,1388.0) scale(1,1.06)" text-anchor="end">10</text>
<text transform="translate(245.8,1259.6) scale(1,1.06)" text-anchor="end">20</text>
<text transform="translate(245.8,1131.1) scale(1,1.06)" text-anchor="end">30</text>
<text transform="translate(245.8,1002.7) scale(1,1.06)" text-anchor="end">40</text>
<text transform="translate(245.8,874.2) scale(1,1.06)" text-anchor="end">50</text>
<text transform="translate(245.8,745.8) scale(1,1.06)" text-anchor="end">60</text>
<text transform="translate(245.8,617.3) scale(1,1.06)" text-anchor="end">70</text>
<text transform="translate(245.8,488.9) scale(1,1.06)" text-anchor="end">80</text>
<text transform="translate(245.8,360.4) scale(1,1.06)" text-anchor="end">90</text>
<text transform="translate(245.8,232.0) scale(1,1.06)" text-anchor="end">100</text>
<text transform="translate(268.3,1565.9) scale(1,1.06)" text-anchor="middle">0</text>
<text transform="translate(463.7,1565.9) scale(1,1.06)" text-anchor="middle">120</text>
<text transform="translate(659.2,1565.9) scale(1,1.06)" text-anchor="middle">240</text>
<text transform="translate(854.6,1565.9) scale(1,1.06)" text-anchor="middle">360</text>
<text transform="translate(1050.1,1565.9) scale(1,1.06)" text-anchor="middle">480</text>
<text transform="translate(1245.5,1565.9) scale(1,1.06)" text-anchor="middle">600</text>
<text transform="translate(1441.0,1565.9) scale(1,1.06)" text-anchor="middle">720</text>
<text transform="translate(1636.4,1565.9) scale(1,1.06)" text-anchor="middle">840</text>
<text transform="translate(1831.9,1565.9) scale(1,1.06)" text-anchor="middle">960</text>
<text transform="translate(2027.3,1565.9) scale(1,1.06)" text-anchor="middle">1080</text>
<text transform="translate(2222.7,1565.9) scale(1,1.06)" text-anchor="middle">1200</text>
</g>
<text transform="translate(1246.2,139.6) scale(1,1.035)" text-anchor="middle" font-weight="bold" font-size="60.2" fill="#000">F3 - PVA - alcohol</text>
<text transform="translate(1246.6,1647.5) scale(1,1.02)" text-anchor="middle" font-weight="bold" font-size="60.3" fill="#000">Time (min)</text>
<text transform="translate(144.3,857.4) rotate(-90) scale(1.0087,1.05)" text-anchor="middle" font-weight="bold" font-size="60.3" fill="#000">Released amount of TH (%)</text>
<g id="legend">
<path d="M1696.4,974.0H1755.9" stroke="#0000ff" stroke-width="5.5" fill="none"/>
<circle cx="1726.1" cy="974.0" r="16.6" stroke="#0000ff" stroke-width="5.0" fill="none"/>
<text transform="translate(1790.8,990.1) scale(1,1.04)" font-size="47.3" fill="#000">Without coating</text>
<path d="M1696.4,1050.4H1755.9" stroke="#a00000" stroke-width="5.5" fill="none"/>
<rect x="1709.3" y="1033.6" width="33.6" height="33.6" stroke="#a00000" stroke-width="5.0" fill="none"/>
<text transform="translate(1790.8,1066.5) scale(1,1.04)" font-size="47.3" fill="#000">PVA I</text>
<path d="M1696.4,1126.8H1755.9" stroke="#000000" stroke-width="5.5" fill="none"/>
<path d="M1726.1,1110.8L1743.1,1143.3L1709.1,1143.3Z" stroke="#000000" stroke-width="5.0" fill="none" stroke-linejoin="miter"/>
<text transform="translate(1790.8,1142.9) scale(1,1.04)" font-size="47.3" fill="#000">PVA II</text>
<path d="M1696.4,1202.8H1755.9" stroke="#008000" stroke-width="5.5" fill="none"/>
<path d="M1726.1,1218.8L1743.1,1186.3L1709.1,1186.3Z" stroke="#008000" stroke-width="5.0" fill="none" stroke-linejoin="miter"/>
<text transform="translate(1790.8,1218.9) scale(1,1.04)" font-size="47.3" fill="#000">PVA III</text>
<path d="M1696.4,1279.8H1755.9" stroke="#000000" stroke-width="5.5" fill="none"/>
<text transform="translate(1790.8,1295.9) scale(1,1.04)" font-size="47.3" fill="#000">Weibull</text>
</g>
</svg>
</body>
</html>
